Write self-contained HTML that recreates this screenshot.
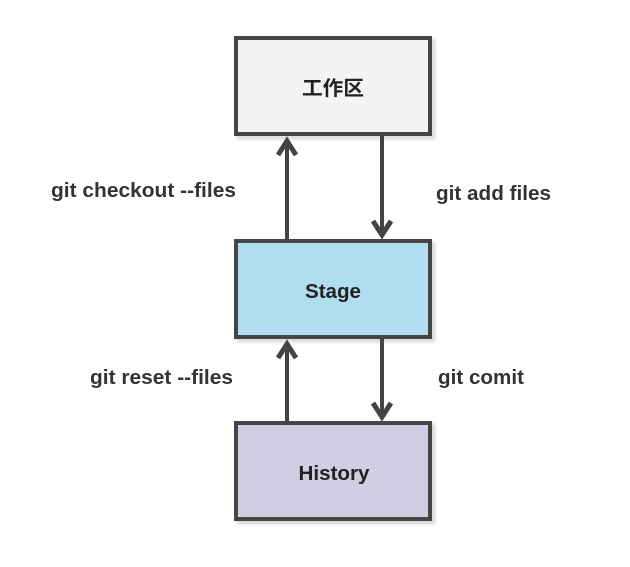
<!DOCTYPE html>
<html><head><meta charset="utf-8"><style>
body{margin:0;background:#fff;width:630px;height:562px;overflow:hidden;font-family:"Liberation Sans","Noto Sans CJK SC",sans-serif;}
</style></head><body>
<svg width="630" height="562" viewBox="0 0 630 562" xmlns="http://www.w3.org/2000/svg">
<defs><filter id="s" x="-10%" y="-10%" width="130%" height="130%"><feOffset dx="3" dy="3"/><feGaussianBlur stdDeviation="1.5"/><feComponentTransfer><feFuncA type="linear" slope="0.25"/></feComponentTransfer><feMerge><feMergeNode/><feMergeNode in="SourceGraphic"/></feMerge></filter></defs>
<g stroke="#444" stroke-width="4">
<rect x="236" y="38" width="194" height="96" fill="#f4f4f4" filter="url(#s)"/>
<rect x="236" y="241" width="194" height="96" fill="#b1ddf0" filter="url(#s)"/>
<rect x="236" y="423" width="194" height="96" fill="#d0cee2" filter="url(#s)"/>
<line x1="287" y1="239" x2="287" y2="142"/>
<line x1="382" y1="136" x2="382" y2="232"/>
<line x1="287" y1="421" x2="287" y2="345"/>
<line x1="382" y1="339" x2="382" y2="414"/>
</g>
<g fill="none" stroke="#444" stroke-width="5" stroke-linejoin="miter">
<polyline points="278,155 287,141 296,155"/>
<polyline points="373,221 382,235 391,221"/>
<polyline points="278,358 287,344 296,358"/>
<polyline points="373,403 382,417 391,403"/>
</g>
<g font-weight="bold" font-size="20" fill="#222" text-anchor="middle">
<text x="333" y="95" textLength="62" lengthAdjust="spacingAndGlyphs">工作区</text>
<text x="333" y="298" textLength="56" lengthAdjust="spacingAndGlyphs">Stage</text>
<text x="334" y="480" textLength="71" lengthAdjust="spacingAndGlyphs">History</text>
</g>
<g font-weight="bold" font-size="20" fill="#333">
<text x="51" y="197" textLength="185" lengthAdjust="spacingAndGlyphs">git checkout --files</text>
<text x="436" y="200" textLength="115" lengthAdjust="spacingAndGlyphs">git add files</text>
<text x="90" y="384" textLength="143" lengthAdjust="spacingAndGlyphs">git reset --files</text>
<text x="438" y="384" textLength="86" lengthAdjust="spacingAndGlyphs">git comit</text>
</g>
</svg>
</body></html>
